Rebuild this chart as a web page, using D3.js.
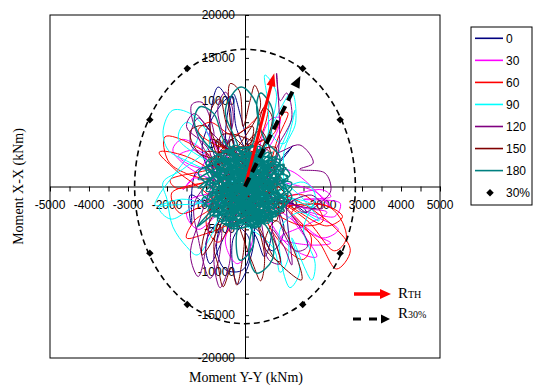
<!DOCTYPE html>
<html><head><meta charset="utf-8">
<script src="https://cdn.jsdelivr.net/npm/d3@7"></script>
<style>body{margin:0;background:#fff}svg{display:block}</style>
</head><body>
<svg id="chart" width="534" height="387"></svg>
<script>
// ---------- DATA ----------
const seriesNames = ["0","30","60","90","120","150","180"];
const seriesColors = ["#000080","#FF00FF","#FF0000","#00FFFF","#800080","#800000","#008080"];

// each series: [Moment Y-Y, Moment X-X] (kNm)
const s0 = [[0,0],[-600,2000],[-900,6000],[-690,11600],[-400,9500],[-300,5000],[400,-2000],[-300,-6000],[-190,-11400],[100,-9000],[200,-4000],[-800,1000],[-1100,4500],[-700,9000],[-350,10500],[-200,6500],[500,1500],[1230,4760],[900,3000],[600,-1000],[1500,-2500],[1580,-3100],[1100,-1800],[-400,-3000],[-730,-7000],[-500,-9700],[-50,-9700],[100,-6000],[-900,-2500],[-1400,-1000],[-1370,-4500],[-1200,2000],[300,500],[700,-4000],[500,-8200],[300,-6000],[-200,-2000],[-500,6000],[-300,10800],[-100,8000],[200,3000],[1000,-5000],[700,-7500],[300,-5000],[-600,-4000],[-1000,-6500],[-900,-9000],[-600,-6500],[0,0]];
const s30 = [[0,0],[-1200,1500],[-1850,4250],[-1600,5500],[-1000,3500],[-1590,-410],[-1300,1000],[-800,-500],[-1500,-3100],[-1200,-5000],[-600,-3000],[800,-1500],[2000,-400],[2200,-1200],[1500,-1500],[2440,-1950],[2300,-3500],[1600,-3000],[2390,-5000],[2000,-6000],[1200,-3500],[1840,-8190],[1300,-7500],[700,-4500],[300,1500],[640,7760],[900,8000],[500,4000],[-300,3000],[-1000,6500],[-800,5000],[200,-6000],[-200,-9000],[-500,-6000],[1000,2000],[2200,-2500],[1800,-600],[-1400,2500],[-1700,3600],[-1200,4200],[-600,1000],[1500,-2500],[2100,-3000],[1700,-4200],[900,-6000],[1600,-6800],[2200,-6600],[1700,-5500],[500,-2000],[-1000,-2000],[-1400,-1500],[0,0]];
const s60 = [[0,0],[-1500,1500],[-1970,3000],[-2050,5800],[-1400,5000],[-700,2500],[-1920,760],[-1750,-200],[-1000,500],[-1880,-760],[-1670,-3100],[-1200,-2500],[-600,-800],[1000,-1000],[2350,-5000],[2700,-7500],[2350,-9620],[1900,-6500],[1200,-3000],[1900,-2000],[2500,-3500],[2100,-4600],[1000,-2000],[1700,-6000],[1500,-8500],[1000,-7000],[500,-3000],[800,5000],[1100,8600],[980,8570],[700,6000],[-500,4500],[-1200,6500],[-900,7500],[-300,6000],[300,8000],[600,10000],[500,7000],[0,3000],[-600,4800],[-200,2200],[-700,3800],[100,4500],[-1000,-4000],[-700,-6500],[-200,-4000],[1500,-1000],[2000,-4000],[1400,-4500],[-1500,3500],[-2200,4000],[-1800,2000],[-800,-2000],[-1300,-4000],[-1500,-6000],[-1000,-5500],[800,-2500],[2200,-2500],[2600,-6000],[2300,-7500],[1600,-4000],[600,-1000],[0,0]];
const s90 = [[0,0],[-1500,3000],[-1970,4260],[-2100,6500],[-1850,8900],[-1300,8200],[-900,5000],[-1600,2000],[-2100,500],[-2000,-1500],[-1850,-4700],[-1500,-7000],[-1230,-7990],[-900,-6000],[-600,-3000],[500,4000],[600,9000],[510,13000],[800,11000],[700,6000],[1000,5000],[1280,8900],[1100,6500],[800,2000],[1500,-1500],[1900,-4000],[1400,-3000],[900,-5000],[1150,-11800],[1400,-10000],[1200,-6000],[1710,-10900],[1800,-9000],[1500,-5000],[1800,-1000],[1500,500],[600,-1000],[-1200,-2000],[-2200,-2500],[-1900,-3800],[-800,-1000],[1600,-1800],[1800,-2500],[-1700,5500],[-1500,7500],[-1200,6000],[-2200,-1000],[-2300,-2200],[-1500,-1500],[700,-7000],[900,-10000],[1100,-8500],[1000,4000],[1300,7500],[1200,11000],[900,9000],[0,0]];
const s120 = [[0,0],[-1000,4000],[-1370,9500],[-1100,9800],[-800,6000],[-1200,8000],[-1400,5000],[-800,2000],[-1300,-2000],[-1200,-6000],[-900,-10700],[-700,-9000],[-600,-5000],[-800,-8000],[-640,-11800],[-400,-9000],[-300,-4000],[800,3000],[810,13200],[900,10000],[1070,10900],[1200,8000],[800,4000],[1410,4840],[1750,2740],[1400,2000],[2050,1570],[2200,-500],[1900,-2000],[1500,-3000],[1100,-1500],[1200,-9160],[1000,-7000],[700,-5000],[900,-9000],[600,-8500],[400,-4000],[-200,2000],[-700,9000],[-500,11000],[-300,8000],[-1100,-3000],[-1400,-8000],[-1200,-10500],[-1000,-7000],[-900,4000],[-1500,7000],[-1300,8500],[-900,6500],[1300,-4000],[1600,-7000],[1300,-7500],[900,-3000],[1700,-1000],[2000,-2500],[1400,-2300],[0,0]];
const s150 = [[0,0],[-300,5000],[-380,12000],[-150,11200],[-50,7000],[130,10000],[250,11800],[400,9500],[100,6500],[-600,3000],[-900,8500],[-650,10200],[-400,6500],[300,4000],[700,8000],[500,9200],[200,5500],[-700,1000],[900,-2000],[-400,4500],[600,-3500],[-800,-1500],[1000,2500],[-200,-4200],[-600,6000],[700,3500],[-900,-3000],[400,6500],[800,-4000],[-500,2000],[300,-2500],[-1000,4000],[900,1000],[-300,-3500],[500,5500],[-700,-500],[1000,-3000],[-100,3000],[-800,5500],[600,-1000],[-400,-4400],[200,7000],[-900,2500],[800,4500],[0,-2000],[-600,4000],[1100,-1500],[-500,-3000],[-800,-7000],[-700,-9000],[-560,-11700],[-350,-9500],[-210,-11500],[-50,-8000],[100,-3000],[500,-6000],[700,-8000],[1000,-9500],[1450,-10900],[1300,-8000],[800,-4000],[500,-7000],[900,-8800],[600,-5000],[-300,-1000],[-1000,-5000],[-1100,-8000],[-800,-6000],[-200,2000],[-1200,4000],[-1400,6500],[-1000,7000],[-200,-4000],[200,-9000],[400,-11000],[500,-8000],[0,0]];
const s180 = [[0,0],[-800,2500],[900,-1500],[-600,-3500],[700,3000],[-1000,-500],[1100,800],[-300,4200],[400,-4300],[-900,1800],[1000,-2800],[-500,-1800],[600,1900],[-900,3000],[200,-2600],[600,4000],[-700,-4000],[1200,-200],[-400,600],[500,-3600],[-200,5000],[-500,9000],[-100,11600],[300,9500],[200,5000],[-900,-2500],[1000,2600],[-300,-4600],[-700,3800],[700,-3900],[-600,300],[1100,-1800],[-900,4500],[-1300,7500],[-1150,9300],[-800,8500],[-500,5000],[700,-600],[-800,-3300],[300,3600],[1150,1300],[-1100,-1500],[400,-4600],[-400,2800],[900,200],[-400,4600],[400,-1200],[200,-4500],[100,-8000],[300,-10100],[700,-8500],[600,-5000],[-1000,1000],[800,-3500],[-200,4400],[800,-2200],[-600,-4200],[500,2500],[-1200,-200],[500,4300],[-300,-3000],[900,3200],[500,5500],[300,9500],[400,10900],[700,9000],[600,5500],[-600,-2000],[900,1000],[-800,-3500],[200,4800],[600,-4300],[-800,3000],[300,-300],[-1050,2200],[800,-3200],[-400,-4800],[1050,2200],[-600,-2500],[-1230,-4700],[-900,-3000],[500,4500],[-500,1200],[600,-2500],[-600,4200],[500,600],[-500,-4400],[1100,-900],[0,3400],[-900,-1200],[800,3500],[-300,-3800],[900,-3000],[-1000,2700],[400,4600],[-600,-600],[350,-4700],[-200,1500],[900,-1000],[-950,-2800],[300,2200],[-500,4000],[1000,1800],[-800,-1800],[600,-3900],[-100,-1000],[700,4000],[-200,-5000],[-130,-8600],[200,-7000],[100,-4000],[-700,2000],[800,-300],[-400,-2200],[500,3000],[-900,500],[300,-4000],[600,-1800],[-750,3400],[1000,-2400],[-700,-3600],[400,4000],[-1200,800],[900,2400],[-200,-4400],[1200,400],[-900,-800],[300,-4800],[-500,3600],[1000,-600],[-1100,-2200],[700,1400],[-300,4800],[500,-4400],[-800,1400],[200,-3200],[-500,-4500],[800,3600],[-400,-1400],[300,4400],[-600,3800],[1200,-1200],[-400,-4600],[600,3300],[-1200,1600],[700,-3700],[-100,2000],[-700,-2800],[1000,300],[-400,4600],[500,-2800],[-1100,-800],[300,4700],[-300,-4800],[1050,-2000],[-300,1000],[400,-4700],[-1000,2300],[900,3000],[-500,-3800],[200,1200],[-500,4300],[700,-4000],[-600,-1200],[800,2800],[-900,-3300],[300,-1500],[0,4000],[600,-3200],[-700,600],[1100,1200],[-400,-2600],[500,4200],[-1000,-1900],[500,1800],[-200,-4800],[1000,-1700],[-800,2600],[300,3000],[-700,-4000],[700,-1300],[0,0]];
const seriesData = [s0, s30, s60, s90, s120, s150, s180];

const xTickValues = [-5000,-4000,-3000,-2000,-1000,0,1000,2000,3000,4000,5000];
const yTickValues = [20000,15000,10000,5000,0,-5000,-10000,-15000,-20000];
const r30Radii = [2830, 16000];           // dashed ellipse semi-axes
const r30Points = [[1480,13750],[2440,7770],[2440,-7770],[1480,-13750],[-1480,-13750],[-2440,-7770],[-2440,7770],[-1480,13750]];
const rThTip = [750, 13200];
const r30Tip = [1420, 12900];

// ---------- CHART ----------
const svg = d3.select("#chart");
const L = 50, R = 440, T = 15, B = 358;
const x = d3.scaleLinear().domain([-5000,5000]).range([L,R]);
const y = d3.scaleLinear().domain([-20000,20000]).range([B,T]);
const sans = "'Liberation Sans', Arial, sans-serif";
const serif = "'Liberation Serif', 'Times New Roman', serif";

svg.append("rect").attr("width",534).attr("height",387).attr("fill","#fff");
svg.append("rect").attr("x",L).attr("y",T).attr("width",R-L).attr("height",B-T)
  .attr("fill","none").attr("stroke","#000").attr("stroke-width",1);

// axes through origin
const xMinor = d3.range(-5000, 5001, 500);
const yMinor = d3.range(-20000, 20001, 2500);
svg.append("g").attr("transform",`translate(0,${y(0)})`)
  .call(d3.axisBottom(x).tickValues(xMinor).tickFormat("").tickSize(5).tickSizeOuter(0));
svg.append("g").attr("transform",`translate(${x(0)},0)`)
  .call(d3.axisRight(y).tickValues(yMinor).tickFormat("").tickSize(4).tickSizeOuter(0));
svg.selectAll(".domain").attr("stroke","#000");
svg.selectAll(".tick line").attr("stroke","#000");

const fmt = v => String(v);
svg.append("g").selectAll("text").data(xTickValues).join("text")
  .attr("x", d => x(d)).attr("y", y(0)+22).attr("text-anchor","middle")
  .attr("font-family",sans).attr("font-size",12).text(fmt);
svg.append("g").selectAll("text").data(yTickValues).join("text")
  .attr("x", x(0)-10).attr("y", d => y(d)+4).attr("text-anchor","end")
  .attr("font-family",sans).attr("font-size",12).text(fmt);

// series
const line = d3.line().x(d => x(d[0])).y(d => y(d[1])).curve(d3.curveCatmullRom.alpha(0.5));
const gS = svg.append("g");
seriesData.forEach((data, i) => {
  gS.append("path").attr("d", line(data)).attr("fill","none")
    .attr("stroke", seriesColors[i]).attr("stroke-width", i === 6 ? 1.4 : 1);
});

// dashed ellipse + diamonds
svg.append("ellipse").attr("cx", x(0)).attr("cy", y(0))
  .attr("rx", x(r30Radii[0]) - x(0)).attr("ry", y(0) - y(r30Radii[1]))
  .attr("fill","none").attr("stroke","#000").attr("stroke-width",1.6).attr("stroke-dasharray","6,4");
const diamond = d3.symbol().type(d3.symbolSquare).size(28);
svg.append("g").selectAll("path").data(r30Points).join("path")
  .attr("d", diamond).attr("transform", d => `translate(${x(d[0])},${y(d[1])}) rotate(45)`).attr("fill","#000");

// arrows
function arrowHead(x1,y1,x2,y2,len,wid,color){
  const a = Math.atan2(y2-y1, x2-x1);
  const bx = x2 - len*Math.cos(a), by = y2 - len*Math.sin(a);
  const px = -Math.sin(a)*wid/2, py = Math.cos(a)*wid/2;
  svg.append("path").attr("d",`M${x2},${y2}L${bx+px},${by+py}L${bx-px},${by-py}Z`).attr("fill",color);
}
{
  const x1=x(0), y1=y(0), x2=x(rThTip[0]), y2=y(rThTip[1]);
  const a = Math.atan2(y2-y1,x2-x1);
  svg.append("line").attr("x1",x1).attr("y1",y1).attr("x2",x2-10*Math.cos(a)).attr("y2",y2-10*Math.sin(a))
    .attr("stroke","#FF0000").attr("stroke-width",3);
  arrowHead(x1,y1,x2,y2,13,9,"#FF0000");
}
{
  const x1=x(0), y1=y(0), x2=x(r30Tip[0]), y2=y(r30Tip[1]);
  const a = Math.atan2(y2-y1,x2-x1);
  svg.append("line").attr("x1",x1).attr("y1",y1).attr("x2",x2-13*Math.cos(a)).attr("y2",y2-13*Math.sin(a))
    .attr("stroke","#000").attr("stroke-width",4).attr("stroke-dasharray","10,6");
  arrowHead(x1,y1,x2,y2,12,10,"#000");
}

// arrow legend
svg.append("line").attr("x1",354).attr("y1",294).attr("x2",381).attr("y2",294).attr("stroke","#FF0000").attr("stroke-width",3.5);
arrowHead(354,294,391,294,11,10,"#FF0000");
svg.append("line").attr("x1",353).attr("y1",319).attr("x2",381).attr("y2",319).attr("stroke","#000").attr("stroke-width",3).attr("stroke-dasharray","8,8");
arrowHead(353,319,390,319,9,9,"#000");
const t1 = svg.append("text").attr("x",398).attr("y",298).attr("font-family",serif).attr("font-size",15);
t1.append("tspan").text("R"); t1.append("tspan").attr("font-size",10).text("TH");
const t2 = svg.append("text").attr("x",398).attr("y",318).attr("font-family",serif).attr("font-size",15);
t2.append("tspan").text("R"); t2.append("tspan").attr("font-size",10).text("30%");

// axis titles
svg.append("text").attr("x",246).attr("y",382).attr("text-anchor","middle")
  .attr("font-family",serif).attr("font-size",14).text("Moment Y-Y (kNm)");
svg.append("text").attr("transform","translate(23,186.5) rotate(-90)").attr("text-anchor","middle")
  .attr("font-family",serif).attr("font-size",14).text("Moment X-X (kNm)");

// legend
const lg = svg.append("g");
lg.append("rect").attr("x",471).attr("y",27).attr("width",61).attr("height",178)
  .attr("fill","#fff").attr("stroke","#000").attr("stroke-width",1);
const legY = d3.range(8).map(i => 38.3 + i*22.05);
seriesNames.forEach((n,i) => {
  lg.append("line").attr("x1",475).attr("x2",503).attr("y1",legY[i]).attr("y2",legY[i])
    .attr("stroke",seriesColors[i]).attr("stroke-width",1.6);
  lg.append("text").attr("x",506).attr("y",legY[i]+4.3).attr("font-family",sans).attr("font-size",12).text(n);
});
lg.append("path").attr("d",diamond).attr("transform",`translate(490,${legY[7]}) rotate(45)`).attr("fill","#000");
lg.append("text").attr("x",506).attr("y",legY[7]+4.3).attr("font-family",sans).attr("font-size",12).text("30%");
</script>
</body></html>
